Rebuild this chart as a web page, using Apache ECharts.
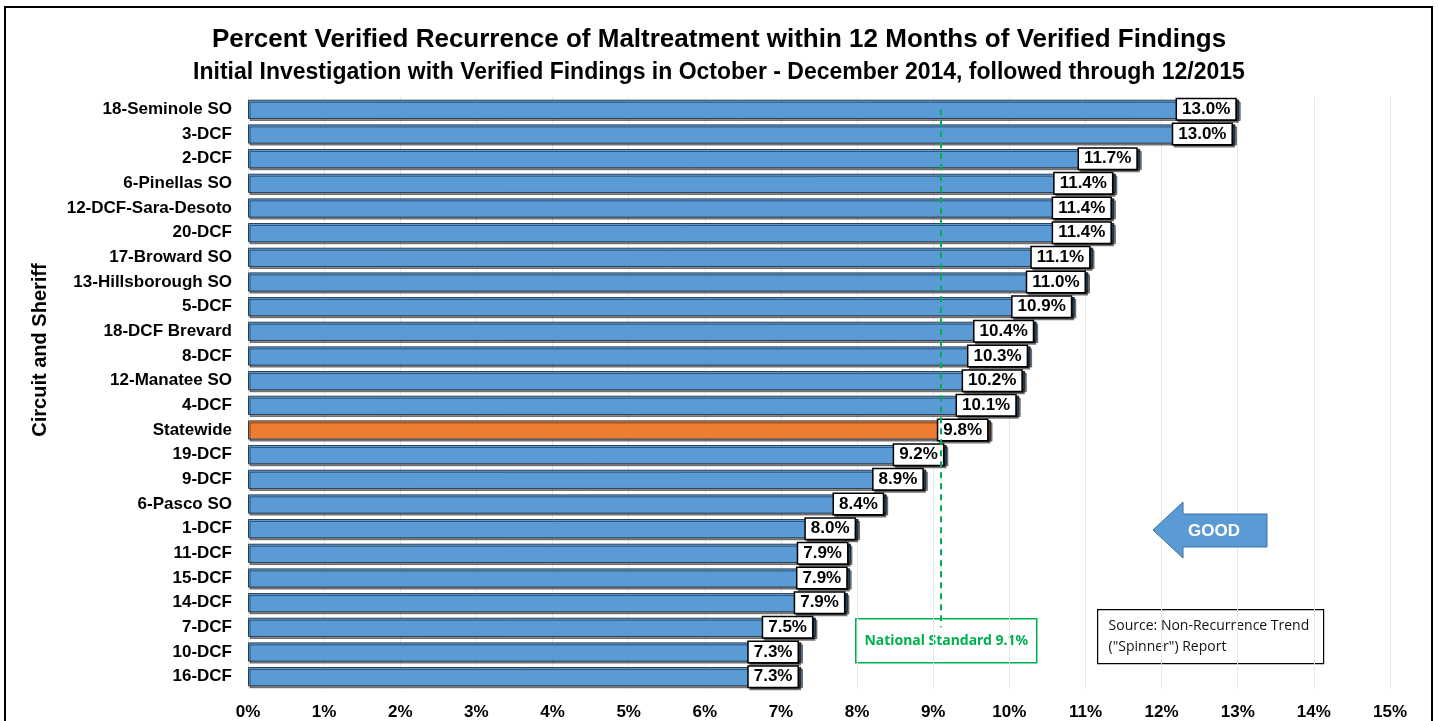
<!DOCTYPE html>
<html>
<head>
<meta charset="utf-8">
<script src="https://cdn.jsdelivr.net/npm/echarts@6/dist/echarts.min.js"></script>
<style>
  html, body { margin: 0; padding: 0; background: #fff; }
  #main { width: 1438px; height: 721px; }
</style>
</head>
<body>
<div id="main"></div>
<script>
// circuits / sheriffs, top to bottom
let categories = [
  "18-Seminole SO", "3-DCF", "2-DCF", "6-Pinellas SO", "12-DCF-Sara-Desoto",
  "20-DCF", "17-Broward SO", "13-Hillsborough SO", "5-DCF", "18-DCF Brevard",
  "8-DCF", "12-Manatee SO", "4-DCF", "Statewide", "19-DCF", "9-DCF",
  "6-Pasco SO", "1-DCF", "11-DCF", "15-DCF", "14-DCF", "7-DCF", "10-DCF", "16-DCF",
];
// percent verified recurrence
let recurrence = [
  13.02, 12.97, 11.72, 11.40, 11.38, 11.38, 11.10, 11.04, 10.86, 10.36,
  10.28, 10.21, 10.13, 9.76, 9.18, 8.91, 8.39, 8.02, 7.92, 7.91,
  7.88, 7.46, 7.27, 7.27,
];
let nationalStandard = 9.1;
let xTicks = [0, 15, 1]; // min, max, step

let font = "Arial, 'Liberation Sans', sans-serif";

let myChart = document.getElementById("main");
let initChart = echarts.init(myChart, null, { renderer: "canvas" });

let option = {
  animation: false,
  backgroundColor: "#fff",
  title: [
    {
      text: "Percent Verified Recurrence of Maltreatment within 12 Months of Verified Findings",
      left: "center",
      top: 22,
      textStyle: { fontFamily: font, fontWeight: "bold", fontSize: 26, color: "#000" },
    },
    {
      text: "Initial Investigation with Verified Findings in October - December 2014, followed through 12/2015",
      left: "center",
      top: 56,
      textStyle: { fontFamily: font, fontWeight: "bold", fontSize: 23, color: "#000" },
    },
  ],
  grid: { left: 248, right: 48, top: 97, bottom: 31, containLabel: false },
  xAxis: {
    type: "value",
    min: xTicks[0],
    max: xTicks[1],
    interval: xTicks[2],
    axisLine: { show: false },
    axisTick: { show: false },
    splitLine: { show: true, lineStyle: { color: "#e8e8e8", width: 1 } },
    axisLabel: {
      formatter: "{value}%",
      fontFamily: font,
      fontWeight: "bold",
      fontSize: 17,
      color: "#000",
      margin: 15,
    },
  },
  yAxis: {
    type: "category",
    data: categories,
    inverse: true,
    axisLine: { show: false },
    axisTick: { show: false },
    axisLabel: {
      fontFamily: font,
      fontWeight: "bold",
      fontSize: 17,
      color: "#000",
      margin: 16,
    },
  },
  series: [
    {
      type: "bar",
      barCategoryGap: "22%",
      data: recurrence.map((v, i) => ({
        value: v,
        itemStyle: { color: categories[i] === "Statewide" ? "#ed7d31" : "#5b9bd5" },
      })),
      itemStyle: {
        borderColor: "#2b3f57",
        borderWidth: 1,
        shadowColor: "rgba(0,0,0,0.45)",
        shadowOffsetX: 1.5,
        shadowOffsetY: 2,
        shadowBlur: 0,
      },
      label: {
        show: true,
        position: "insideRight",
        distance: 4,
        formatter: (p) => p.value.toFixed(1) + "%",
        fontFamily: font,
        fontWeight: "bold",
        fontSize: 17,
        color: "#000",
        backgroundColor: "#fff",
        borderColor: "#000",
        borderWidth: 1.5,
        padding: [2, 5, 1, 5],
        shadowColor: "rgba(0,0,0,0.55)",
        shadowOffsetX: 2,
        shadowOffsetY: 2,
      },
      markLine: {
        symbol: "none",
        silent: true,
        label: { show: false },
        lineStyle: { color: "#00b050", type: [6, 5], width: 2 },
        data: [
          [
            { coord: [nationalStandard, categories[0]] },
            { coord: [nationalStandard, categories[21]] },
          ],
        ],
      },
    },
  ],
  graphic: [
    // outer frame
    {
      type: "rect",
      shape: { x: 5, y: 7, width: 1427, height: 730 },
      style: { fill: "none", stroke: "#000", lineWidth: 2 },
      z: 100,
    },
    // axis title
    {
      type: "text",
      z: 100,
      x: 40,
      y: 350,
      rotation: Math.PI / 2,
      style: {
        text: "Circuit and Sheriff",
        align: "center",
        verticalAlign: "middle",
        fill: "#000",
        font: "bold 20px Arial, 'Liberation Sans', sans-serif",
      },
    },
    // national standard box
    {
      type: "group",
      left: 855,
      top: 618,
      z: 100,
      children: [
        {
          type: "rect",
          shape: { x: 0, y: 0, width: 181, height: 44 },
          style: { fill: "#fff", stroke: "#00b050", lineWidth: 1.5 },
        },
        {
          type: "text",
          style: {
            x: 90.5, y: 22,
            text: "National Standard 9.1%",
            align: "center",
            verticalAlign: "middle",
            fill: "#00b050",
            font: "bold 14px 'Noto Sans', sans-serif",
          },
        },
      ],
    },
    // GOOD arrow
    {
      type: "polygon",
      z: 100,
      shape: {
        points: [
          [1153, 530], [1183, 502], [1183, 514], [1267, 514],
          [1267, 547], [1183, 547], [1183, 558],
        ],
      },
      style: { fill: "#5b9bd5", stroke: "#41719c", lineWidth: 1 },
    },
    {
      type: "text",
      z: 101,
      style: {
        x: 1214, y: 531,
        text: "GOOD",
        align: "center",
        verticalAlign: "middle",
        fill: "#fff",
        font: "bold 17px Arial, 'Liberation Sans', sans-serif",
      },
    },
    // source box
    {
      type: "group",
      left: 1097,
      top: 609,
      z: 100,
      children: [
        {
          type: "rect",
          shape: { x: 0, y: 0, width: 226, height: 54 },
          style: { fill: "#fff", stroke: "#000", lineWidth: 1.2 },
        },
        {
          type: "text",
          style: {
            x: 11, y: 27,
            text: "Source: Non-Recurrence Trend\n(\u0022Spinner\u0022) Report",
            verticalAlign: "middle",
            lineHeight: 21,
            fill: "#111",
            font: "14px 'Open Sans', sans-serif",
          },
        },
      ],
    },
  ],
};

initChart.setOption(option);
</script>
</body>
</html>
